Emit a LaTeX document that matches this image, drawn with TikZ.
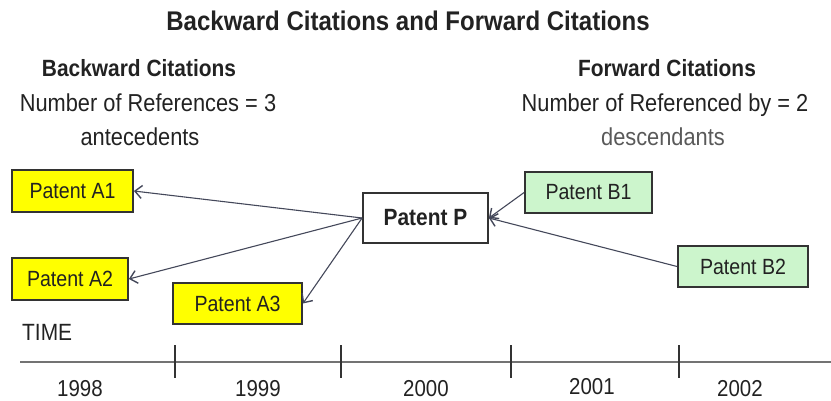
\documentclass[tikz,border=0pt]{standalone}
\usepackage{fontspec}
\setmainfont[FakeStretch=0.89]{Liberation Sans}
\usetikzlibrary{arrows.meta}
\definecolor{ink}{HTML}{222222}
\definecolor{edge}{HTML}{333333}
\definecolor{wire}{HTML}{44485A}
\definecolor{patyellow}{HTML}{FFFF00}
\definecolor{patgreen}{HTML}{CCF5CC}
\tikzset{
  txt/.style={text=ink, inner sep=0pt, anchor=base},
  patbox/.style={draw=edge, line width=1.8pt, inner sep=0pt, text=ink,
    font=\fontsize{22}{23}\selectfont},
  oldbox/.style={patbox, fill=patyellow},
  newbox/.style={patbox, fill=patgreen},
  cite/.style={draw=wire, line width=1.1pt,
    -{Straight Barb[length=7pt,width=13pt,line width=1.4pt]}},
  tick/.style={draw=edge, line width=1.6pt},
  year/.style={txt, font=\fontsize{23}{24}\selectfont},
  body/.style={txt, font=\fontsize{24.5}{26}\selectfont},
}
\begin{document}
\begin{tikzpicture}[x=1pt,y=-1pt]
\useasboundingbox (0,0) rectangle (831,400);

% headings
\node[txt, font=\bfseries\fontsize{27}{29}\selectfont] (title) at (408,30) {Backward Citations and Forward Citations};
\node[txt, font=\bfseries\fontsize{23.5}{25}\selectfont] (bwhead) at (139,76) {Backward Citations};
\node[body] (bwcount) at (148,111) {Number of References = 3};
\node[body] (bwword) at (140,145) {antecedents};
\node[txt, font=\bfseries\fontsize{23.5}{25}\selectfont] (fwhead) at (667,76) {Forward Citations};
\node[body] (fwcount) at (665,111) {Number of Referenced by = 2};
\node[body, text=black!65] (fwword) at (663,145) {descendants};

% patents
\node[oldbox, minimum width=121pt, minimum height=42pt] (A1) at (72.5,191) {Patent A1};
\node[oldbox, minimum width=116pt, minimum height=42pt] (A2) at (70,279) {Patent A2};
\node[oldbox, minimum width=129pt, minimum height=41pt] (A3) at (237.5,303.5) {Patent A3};
\node[patbox, fill=white, minimum width=125pt, minimum height=50pt,
      font=\bfseries\fontsize{23.5}{25}\selectfont] (P) at (425.5,218) {Patent P};
\node[newbox, minimum width=127pt, minimum height=41pt] (B1) at (588.5,192.5) {Patent B1};
\node[newbox, minimum width=130pt, minimum height=41pt] (B2) at (743,266.5) {Patent B2};

% citations
\draw[cite] (P.west) -- (A1.east);
\draw[cite] (P.west) -- (A2.east);
\draw[cite] (P.west) -- (A3.east);
\draw[cite] (B1.west) -- (P.east);
\draw[cite] (B2.west) -- (P.east);

% time axis
\node[txt, font=\fontsize{23.5}{25}\selectfont, anchor=base west] (time) at (22,340) {TIME};
\coordinate (t0) at (20,362);
\coordinate (t1) at (838,362);
\draw[draw=black!55, line width=1.8pt, -{Straight Barb[length=5pt,width=9pt]}] (t0) -- (t1);
\foreach \x in {175,341,511,679} \draw[tick] (\x,345) -- (\x,378);
\node[year] (y98) at (80,396) {1998};
\node[year] (y99) at (258,396) {1999};
\node[year] (y00) at (426,396) {2000};
\node[year] (y01) at (592,394) {2001};
\node[year] (y02) at (740,396) {2002};
\end{tikzpicture}
\end{document}
